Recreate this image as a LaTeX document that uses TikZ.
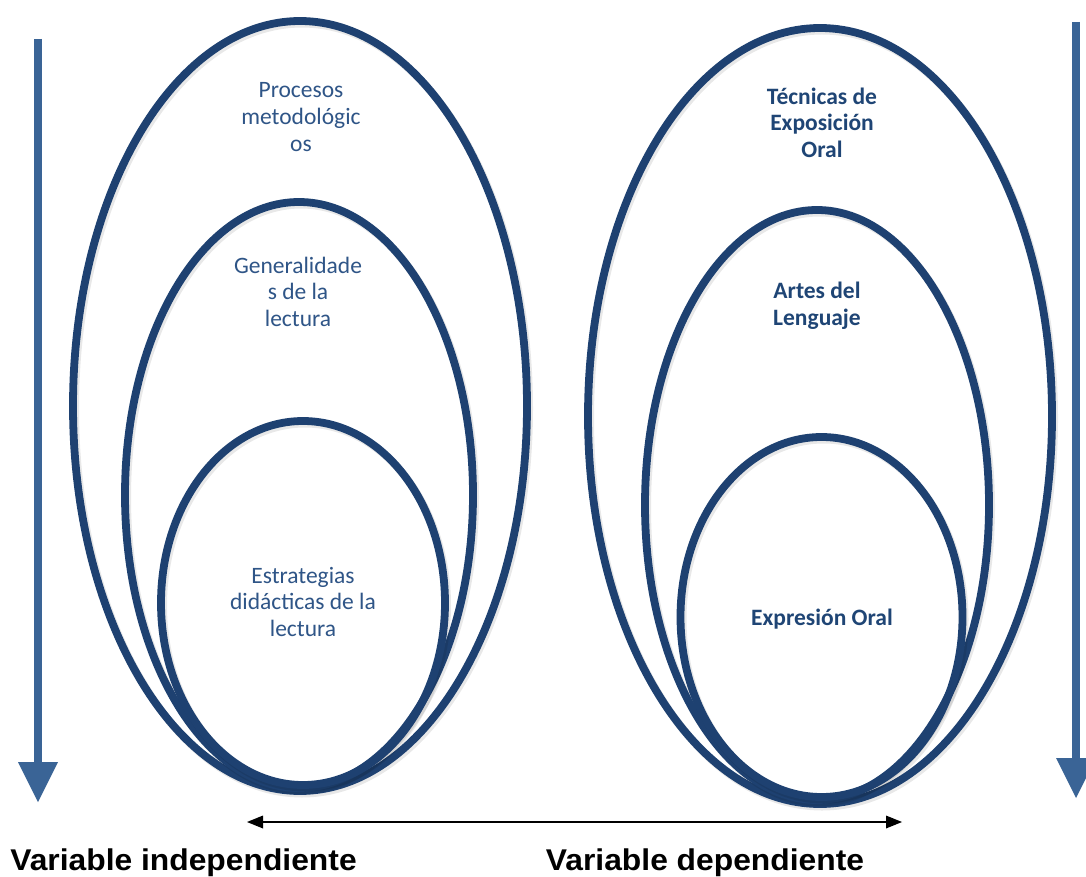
\documentclass[tikz,border=0pt]{standalone}
\usepackage{fontspec}
\setmainfont{Carlito}
\newfontfamily\labelfont{Liberation Sans}
\usetikzlibrary{arrows.meta,shapes.geometric}
\definecolor{ringblue}{HTML}{1E4171}
\definecolor{arrowblue}{HTML}{3A6496}
\definecolor{txtlight}{HTML}{2F5587}
\definecolor{txtdark}{HTML}{1F4575}
\newcommand\mytopstrut{\rule{0pt}{18pt}}
\begin{document}
\begin{tikzpicture}[x=1pt,y=-1pt,
  ring/.style={ellipse, draw=ringblue, line width=7.8pt, inner sep=0pt, outer sep=0pt,
    preaction={draw=black, draw opacity=0.09, line width=8pt,
      transform canvas={xshift=2pt,yshift=-2.5pt}}},
  lighttext/.style={anchor=north, inner sep=0pt, align=center, text=txtlight,
    font=\fontsize{23.5}{26.7}\selectfont},
  darktext/.style={anchor=north, inner sep=0pt, align=center, text=txtdark,
    font=\fontsize{23.5}{26.7}\selectfont\bfseries},
  varlabel/.style={anchor=base, inner sep=0pt, text=black,
    font=\labelfont\fontsize{30}{34}\selectfont\bfseries},
  bigarrow/.style={draw=arrowblue, line width=8pt,
    -{Triangle[width=40pt,length=40pt,line width=0pt]}},
  dblarrow/.style={draw=black, line width=2.5pt,
    {Triangle[width=13pt,length=16pt,line width=0pt]}-{Triangle[width=13pt,length=16pt,line width=0pt]}}
]
\useasboundingbox (0,0) rectangle (1086,877);
\clip (0,0) rectangle (1086,877);
\fill[white] (0,0) rectangle (1086,877);

% left group
\node[ring, minimum width=454pt, minimum height=770pt] (L1) at (300,406) {};
\node[ring, minimum width=348pt, minimum height=586pt] (L2) at (299,495) {};
\node[ring, minimum width=284pt, minimum height=364pt] (L3) at (303,603) {};

% right group
\node[ring, minimum width=464pt, minimum height=776pt] (R1) at (820,416) {};
\node[ring, minimum width=344pt, minimum height=590pt] (R2) at (817,505) {};
\node[ring, minimum width=282pt, minimum height=360pt] (R3) at (821.5,617) {};

% texts
\node[lighttext] (t1) at (301,79.7) {\mytopstrut Procesos\\metodológic\\os};
\node[lighttext] (t2) at (298,255) {\mytopstrut Generalidade\\s de la\\lectura};
\node[lighttext] (t3) at (303,565) {\mytopstrut Estrategias\\didácticas de la\\lectura};

\node[darktext] (r1) at (822,86) {\mytopstrut Técnicas de\\Exposición\\Oral};
\node[darktext] (r2) at (817,280.4) {\mytopstrut Artes del\\Lenguaje};
\node[darktext] (r3) at (822,607) {\mytopstrut Expresión Oral};

% vertical arrows
\coordinate (la1) at (38,39);
\coordinate (la2) at (38,802);
\draw[bigarrow] (la1) -- (la2);
\coordinate (ra1) at (1076,22);
\coordinate (ra2) at (1076,798);
\draw[bigarrow] (ra1) -- (ra2);

% horizontal double arrow
\coordinate (da1) at (247,822);
\coordinate (da2) at (902,822);
\draw[dblarrow] (da1) -- (da2);

% labels
\node[varlabel] (vi) at (183.5,870) {\scalebox{1.06}[1]{Variable independiente}};
\node[varlabel] (vd) at (705,870) {\scalebox{1.06}[1]{Variable dependiente}};
\end{tikzpicture}
\end{document}
